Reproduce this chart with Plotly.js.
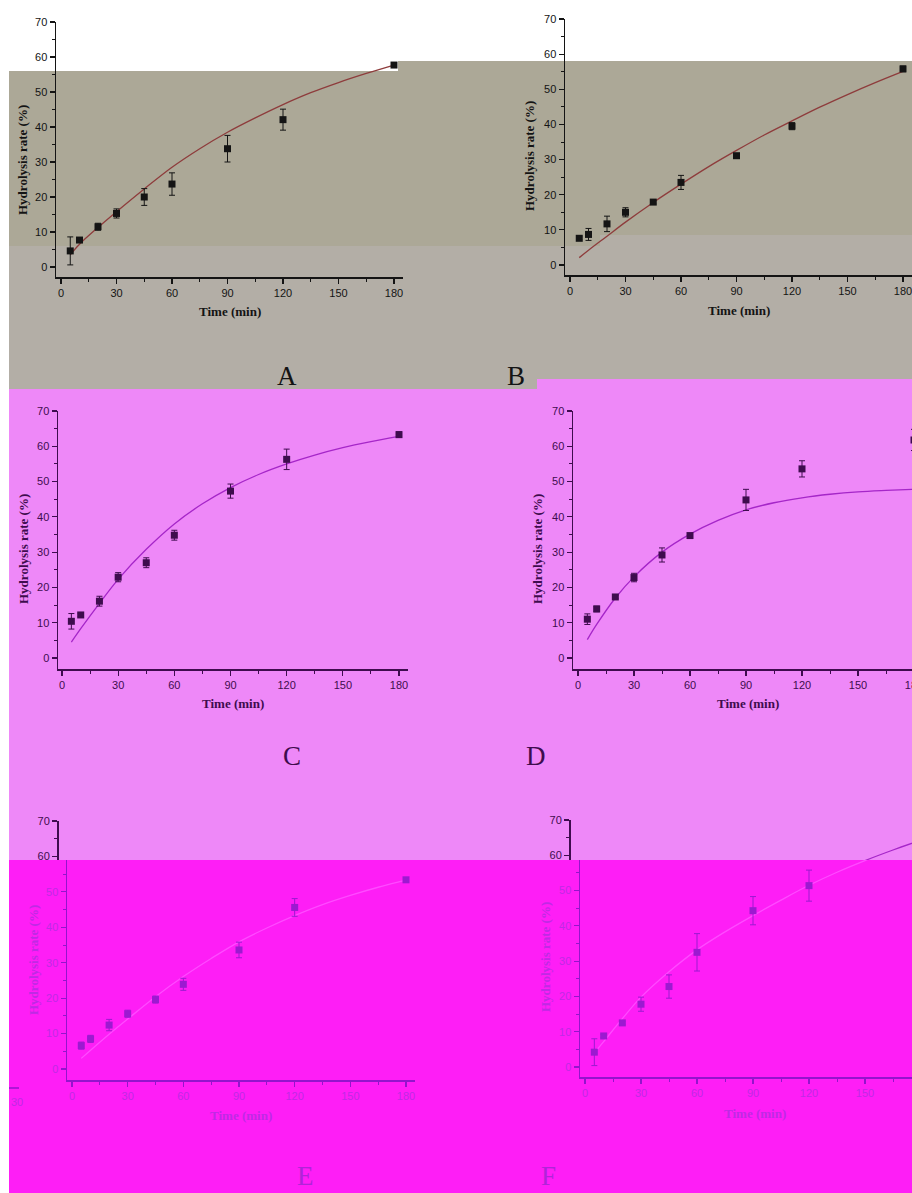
<!DOCTYPE html>
<html>
<head>
<meta charset="utf-8">
<script src="https://cdn.plot.ly/plotly-3.0.1.min.js"></script>
<style>
html,body{margin:0;padding:0;background:#ffffff;overflow:hidden;width:912px;height:1193px;}
#chart{width:940px;height:1193px;}
</style>
</head>
<body>
<div id="chart"></div>
<script>
// ---------------- data ----------------
const times = [5, 10, 20, 30, 45, 60, 90, 120, 180];
const fitTimes = [5, 10, 20, 30, 45, 60, 75, 90, 105, 120, 135, 150, 165, 180];
const xTicks = [0, 30, 60, 90, 120, 150, 180];
const yTicks = [0, 10, 20, 30, 40, 50, 60, 70];
const panelLetters = ["A", "B", "C", "D", "E", "F"];
const xTitle = "Time (min)";
const yTitle = "Hydrolysis rate (%)";

const rateA = [4.6, 7.7, 11.5, 15.3, 20.0, 23.7, 33.8, 42.1, 57.7];
const errA  = [4.0, 0.4, 1.0, 1.3, 2.4, 3.2, 3.8, 3.0, 0.3];
const fitA  = [3.5, 6.5, 11.3, 15.8, 22.3, 28.5, 33.8, 38.5, 42.6, 46.4, 49.8, 52.7, 55.3, 57.7];

const rateB = [7.6, 8.7, 11.7, 15.0, 17.9, 23.5, 31.1, 39.5, 55.8];
const errB  = [0.4, 1.7, 2.2, 1.3, 0.5, 2.0, 0.5, 1.0, 0.8];
const fitB  = [2.1, 4.2, 8.2, 12.2, 17.8, 23.0, 28.0, 32.6, 37.0, 41.0, 44.9, 48.5, 51.9, 55.1];

const rateC = [10.4, 12.2, 16.1, 22.9, 27.0, 34.8, 47.3, 56.3, 63.3];
const errC  = [2.2, 0.5, 1.4, 1.3, 1.4, 1.4, 2.0, 2.9, 0.8];
const fitC  = [4.5, 8.3, 15.5, 22.3, 30.8, 38.0, 43.7, 48.3, 52.0, 55.0, 57.5, 59.6, 61.3, 62.8];

const rateD = [11.0, 13.9, 17.3, 22.8, 29.2, 34.7, 44.8, 53.6, 61.8];
const errD  = [1.5, 0.8, 0.4, 1.2, 2.0, 0.4, 3.0, 2.3, 3.0];
const fitD  = [5.2, 9.5, 17.0, 23.0, 30.0, 35.1, 39.0, 42.0, 44.0, 45.4, 46.4, 47.1, 47.5, 47.8];

const rateE = [6.6, 8.5, 12.4, 15.6, 19.6, 23.9, 33.6, 45.6, 53.4];
const errE  = [1.0, 1.0, 1.6, 1.0, 1.0, 1.7, 2.2, 2.5, 0.5];
const fitE  = [3.0, 5.3, 9.8, 14.1, 20.4, 26.1, 31.2, 35.9, 39.8, 43.3, 46.4, 49.0, 51.3, 53.3];

const rateF = [4.2, 8.8, 12.5, 17.8, 22.8, 32.5, 44.3, 51.4, 64.1];
const errF  = [3.8, 0.4, 0.4, 2.0, 3.3, 5.3, 4.0, 4.4, 0.8];
const fitF  = [4.0, 7.2, 13.7, 19.8, 27.0, 33.2, 38.3, 42.9, 47.3, 51.5, 55.2, 58.5, 61.5, 64.3];

// ---------------- geometry & styles ----------------
const W = 940, H = 1193;
const px = x => x / W;
const py = y => 1 - y / H;

const sGray = {ink: "#141414", label: "#141414", curve: "#8e3c3c", marker: "#141414"};
const sPink = {ink: "#3e0c4e", label: "#3e0c4e", curve: "#a526c8", marker: "#3e0c4e"};
const sMag  = {ink: "#9414cc", label: "#bf2ae4", curve: "#ff4aff", marker: "#9c1ad0"};

const panels = [
  {rate: rateA, err: errA, fit: fitA, axL: 56, axR: 403, x0: 61, x180: 394, y70: 22, y0: 267, xaxY: 277, st: sGray,
   letter: [287, 376], xt: [230, 312], yt: [22, 160]},
  {rate: rateB, err: errB, fit: fitB, axL: 565, axR: 940, x0: 570, x180: 903, y70: 19, y0: 265, xaxY: 275, st: sGray,
   letter: [516, 376], xt: [739, 310], yt: [530, 156]},
  {rate: rateC, err: errC, fit: fitC, axL: 58, axR: 408, x0: 62, x180: 399, y70: 411, y0: 658, xaxY: 669, st: sPink,
   letter: [292, 756], xt: [233, 704], yt: [24, 549]},
  {rate: rateD, err: errD, fit: fitD, axL: 573, axR: 940, x0: 578, x180: 914, y70: 411, y0: 658, xaxY: 669, st: sPink,
   letter: [536, 756], xt: [748, 704], yt: [538, 549]},
  {rate: rateE, err: errE, fit: fitE, axL: 67, axR: 415, x0: 72, x180: 406, y70: 821, y0: 1069, xaxY: 1080, st: sMag,
   split: 860, upperAx: 57, upperSt: sPink,
   letter: [305, 1176], xt: [241, 1115], yt: [34, 960]},
  {rate: rateF, err: errF, fit: fitF, axL: 580, axR: 940, x0: 585, x180: 921, y70: 820, y0: 1067, xaxY: 1077, st: sMag,
   split: 860, upperAx: 569, upperSt: sPink,
   letter: [548, 1176], xt: [755, 1113], yt: [545, 957]}
];

const traces = [];
const layout = {
  width: W, height: H,
  margin: {l: 0, r: 0, t: 0, b: 0},
  paper_bgcolor: "#ffffff",
  plot_bgcolor: "rgba(0,0,0,0)",
  showlegend: false,
  shapes: [],
  annotations: []
};

function addTraces(p, st, xa, ya) {
  traces.push({
    type: "scatter", mode: "lines", x: fitTimes, y: p.fit, xaxis: xa, yaxis: ya,
    line: {color: st.curve, width: 1.3, shape: "spline", smoothing: 1.0},
    hoverinfo: "skip"
  });
  traces.push({
    type: "scatter", mode: "markers", x: times, y: p.rate, xaxis: xa, yaxis: ya,
    marker: {symbol: "square", size: 7, color: st.marker},
    error_y: {type: "data", array: p.err, visible: true, color: st.marker, thickness: 1, width: 3},
    hoverinfo: "skip"
  });
}

function yAxisCfg(st, domain, range, anchor, position) {
  const cfg = {
    domain: domain, range: range, tickvals: yTicks, ticks: "outside", ticklen: 5, tickwidth: 1.2,
    tickcolor: st.ink, showline: true, linecolor: st.ink, linewidth: 1.5, showgrid: false, zeroline: false,
    tickfont: {family: "Liberation Sans, Arial, sans-serif", size: 11, color: st.label},
    minor: {dtick: 5, tick0: 0, ticks: "outside", ticklen: 3, tickcolor: st.ink, tickwidth: 1, showgrid: false},
    fixedrange: true
  };
  if (anchor) cfg.anchor = anchor;
  if (position !== undefined) cfg.position = position;
  return cfg;
}

panels.forEach((p, i) => {
  const n = i + 1;
  const xs = (p.x180 - p.x0) / 180;
  const ys = (p.y0 - p.y70) / 70;
  const xr = [(p.axL - p.x0) / xs, (p.axR - p.x0) / xs];
  const yBottom = -(p.xaxY - p.y0) / ys;
  const xName = "xaxis" + (n === 1 ? "" : n);
  const yName = "yaxis" + (n === 1 ? "" : n);
  const xa = "x" + (n === 1 ? "" : n);
  const ya = "y" + (n === 1 ? "" : n);
  const st = p.st;

  layout[xName] = {
    domain: [px(p.axL), px(p.axR)], range: xr, anchor: ya, tickvals: xTicks,
    ticks: "outside", ticklen: 5, tickwidth: 1.2, tickcolor: st.ink,
    showline: true, linecolor: st.ink, linewidth: 1.5, showgrid: false, zeroline: false,
    tickfont: {family: "Liberation Sans, Arial, sans-serif", size: 11, color: st.label},
    minor: {dtick: 15, tick0: 0, ticks: "outside", ticklen: 3, tickcolor: st.ink, tickwidth: 1, showgrid: false},
    fixedrange: true
  };

  if (p.split) {
    const ySplit = (p.y0 - p.split) / ys;
    layout[yName] = yAxisCfg(st, [py(p.xaxY), py(p.split)], [yBottom, ySplit], xa);
    addTraces(p, st, xa, ya);
    const un = n + 2;
    const uName = "yaxis" + un;
    const ua = "y" + un;
    layout[uName] = yAxisCfg(p.upperSt, [py(p.split), py(p.y70)], [ySplit, 70], "free", px(p.upperAx));
    addTraces(p, p.upperSt, xa, ua);
  } else {
    layout[yName] = yAxisCfg(st, [py(p.xaxY), py(p.y70)], [yBottom, 70], xa);
    addTraces(p, st, xa, ya);
  }

  const titleFont = {family: "Liberation Serif, Times New Roman, serif", size: 13, color: st.label, weight: "bold"};
  layout.annotations.push({
    xref: "paper", yref: "paper", x: px(p.xt[0]), y: py(p.xt[1]), xanchor: "center", yanchor: "middle",
    text: xTitle, showarrow: false, font: titleFont
  });
  layout.annotations.push({
    xref: "paper", yref: "paper", x: px(p.yt[0]), y: py(p.yt[1]), xanchor: "center", yanchor: "middle",
    text: yTitle, textangle: -90, showarrow: false, font: titleFont
  });
  layout.annotations.push({
    xref: "paper", yref: "paper", x: px(p.letter[0]), y: py(p.letter[1]), xanchor: "center", yanchor: "middle",
    text: panelLetters[i], showarrow: false,
    font: {family: "Liberation Serif, Times New Roman, serif", size: 27,
           color: st === sMag ? "#b024d8" : st.label}
  });
});

// background blocks of the scanned figure
function rect(x0, y0, x1, y1, color) {
  layout.shapes.push({type: "rect", xref: "paper", yref: "paper", layer: "below",
    x0: px(x0), x1: px(x1), y0: py(y1), y1: py(y0), fillcolor: color, line: {width: 0}});
}
const cGrayLight = "#b3aea6", cGrayDark = "#aca897", cPink = "#ee88f8", cMag = "#fe1ef6";
rect(9, 71, 398, 389, cGrayLight);
rect(398, 61, 940, 389, cGrayLight);
rect(9, 71, 398, 246, cGrayDark);
rect(398, 61, 600, 246, cGrayDark);
rect(600, 61, 940, 235, cGrayDark);
rect(9, 389, 940, 860, cPink);
rect(537, 379, 940, 389, cPink);
rect(9, 860, 940, 1193, cMag);

// stray fragment at the lower left edge
layout.annotations.push({xref: "paper", yref: "paper", x: px(9), y: py(1102), xanchor: "left", yanchor: "middle",
  text: "30", showarrow: false, font: {family: "Liberation Sans, Arial, sans-serif", size: 11, color: "#bf2ae4"}});
layout.shapes.push({type: "line", xref: "paper", yref: "paper", x0: px(9), x1: px(19), y0: py(1088), y1: py(1088),
  line: {color: "#9414cc", width: 1.5}});

Plotly.newPlot("chart", traces, layout, {displayModeBar: false, staticPlot: true});
</script>
</body>
</html>
